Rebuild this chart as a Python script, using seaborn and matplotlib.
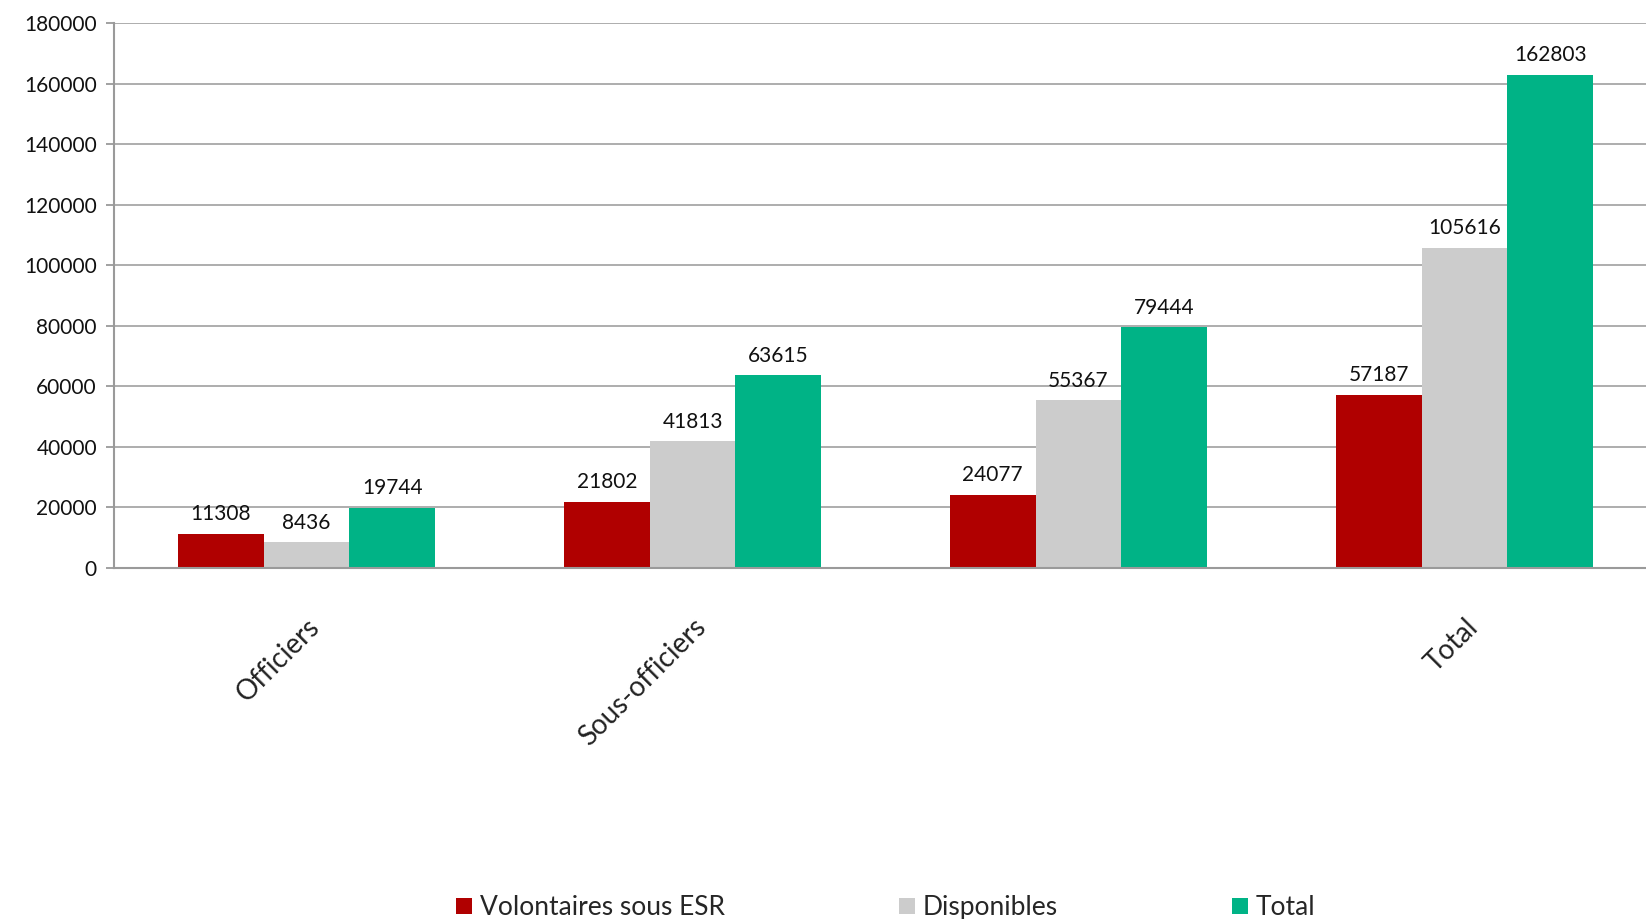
"""Reservistes: volontaires sous ESR, disponibles et total par categorie."""

import matplotlib

matplotlib.use("Agg")
import matplotlib.pyplot as plt
import numpy as np
import pandas as pd
import seaborn as sns

categories = ["Officiers", "Sous-officiers", "Militaires du rang", "Total"]
tick_labels = ["Officiers", "Sous-officiers", "", "Total"]
series = ["Volontaires sous ESR", "Disponibles", "Total"]
volontaires = [11308, 21802, 24077, 57187]
disponibles = [8436, 41813, 55367, 105616]
totaux = [19744, 63615, 79444, 162803]
colors = ["#B00000", "#CCCCCC", "#00B386"]
y_ticks = [0, 20000, 40000, 60000, 80000, 100000, 120000, 140000, 160000, 180000]

df = pd.DataFrame({
    "categorie": categories * 3,
    "serie": [s for s in series for _ in categories],
    "valeur": volontaires + disponibles + totaux,
})

sns.set_theme(style="white")
plt.rcParams["font.family"] = ["Lato", "DejaVu Sans"]

fig = plt.figure(figsize=(16.46, 9.19), dpi=100)
ax = fig.add_axes([0.069, 0.382, 0.931, 0.593])

sns.barplot(
    data=df, x="categorie", y="valeur", hue="serie",
    order=categories, hue_order=series, palette=colors,
    width=0.667, gap=0, saturation=1, errorbar=None, linewidth=0, ax=ax,
)

for container in ax.containers:
    ax.bar_label(container, fmt="%d", padding=7, fontsize=15, color="#111111")

ax.set_ylim(0, 180000)
ax.set_xlim(-0.5, 3.47)
ax.set_yticks(y_ticks)
ax.set_yticklabels([str(v) for v in y_ticks], fontsize=15, color="#111111")
ax.yaxis.grid(True, color="#A0A0A0", linewidth=1.2)
ax.set_axisbelow(True)

ax.set_xticks(range(len(categories)))
ax.set_xticklabels(tick_labels, rotation=45, ha="right", rotation_mode="anchor",
                   fontsize=20, color="#222222")
ax.set_xticks(np.arange(-0.5, 3.5, 1.0), minor=True)
ax.tick_params(axis="x", which="major", length=0, pad=33)
ax.tick_params(axis="x", which="minor", length=6, width=1.3, color="#9A9A9A", direction="out")
ax.tick_params(axis="y", length=6, width=1.3, color="#9A9A9A", left=True, pad=6)
ax.set_xlabel("")
ax.set_ylabel("")

for side in ["top", "right"]:
    ax.spines[side].set_visible(False)
for side in ["left", "bottom"]:
    ax.spines[side].set_color("#9A9A9A")
    ax.spines[side].set_linewidth(1.5)

handles, labels = ax.get_legend_handles_labels()
ax.legend(
    handles, labels, loc="lower center", bbox_to_anchor=(0.504, -0.69),
    ncol=3, frameon=False, fontsize=19, handlelength=0.6, handleheight=0.6,
    handletextpad=0.3, columnspacing=6.6,
)

plt.savefig("out.png", dpi=100)
plt.close()
